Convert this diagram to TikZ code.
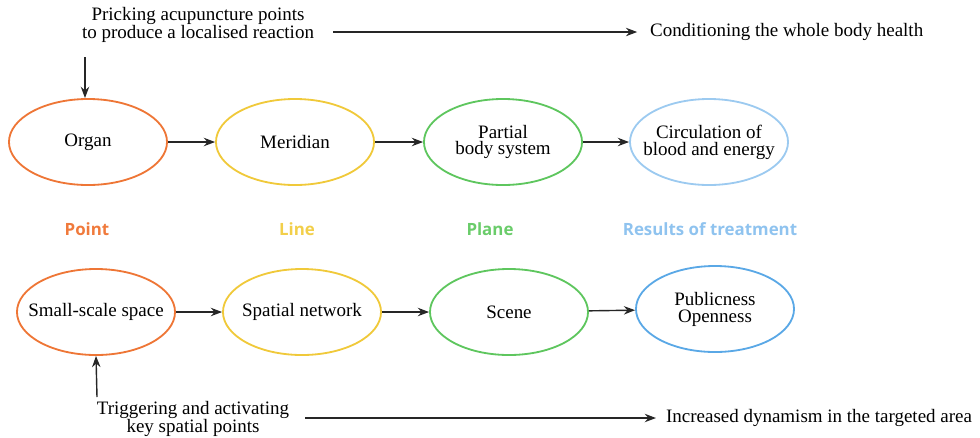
\documentclass[tikz,border=0pt]{standalone}
\usepackage{fontspec}
\setmainfont{Liberation Serif}
\newfontfamily\tagfont{Open Sans}
\usetikzlibrary{shapes.geometric,arrows.meta}
\definecolor{pointc}{HTML}{EE7636}
\definecolor{linec}{HTML}{F0C93A}
\definecolor{planec}{HTML}{5EC65E}
\definecolor{resultc}{HTML}{9CCAF0}
\definecolor{publicc}{HTML}{5AA8E6}
\definecolor{pointt}{HTML}{F07A3C}
\definecolor{linet}{HTML}{F2CF4A}
\definecolor{planet}{HTML}{6ACC6A}
\definecolor{resultt}{HTML}{8FC3EF}
\tikzset{
  stage/.style={ellipse,draw,line width=1.3pt,minimum width=3.95cm,minimum height=2.15cm,
    inner xsep=-0.6cm,inner ysep=0pt,align=center,font=\fontsize{13.5}{12}\selectfont},
  note/.style={align=center,inner sep=2pt,font=\fontsize{13.5}{12}\selectfont},
  tag/.style={font=\tagfont\bfseries\fontsize{12}{12}\selectfont},
  link/.style={-{Stealth[length=8pt,width=6pt]},line width=1pt,black!85}
}
\begin{document}
\begin{tikzpicture}[x=0.025cm,y=-0.025cm]
        \useasboundingbox (0,0) rectangle (980,437);
        % top row
        \node[note] (prick) at (198,25) {Pricking acupuncture points\\to produce a localised reaction};
        \node[note,anchor=west] (cond) at (647,32) {Conditioning the whole body health};
        \coordinate (pstart) at (333,32);
        \draw [link,shorten >=7pt] (pstart) -- (cond.west);
        \coordinate (ptop) at (85,57);
        \draw [link] (ptop) -- (ptop |- 0,98);
        \node[stage,draw=pointc] (organ) at (88,142) {Organ};
        \node[stage,draw=linec] (meridian) at (295,142) {Meridian};
        \node[stage,draw=planec] (partial) at (503,142) {Partial\\body system};
        \node[stage,draw=resultc] (circ) at (709,142) {Circulation of\\blood and energy};
        \draw [link] (organ) -- (meridian);
        \draw [link] (meridian) -- (partial);
        \draw [link] (partial) -- (circ);
        % level names
        \node[tag,text=pointt] (pointlab) at (87,229) {Point};
        \node[tag,text=linet] (linelab) at (297,229) {Line};
        \node[tag,text=planet] (planelab) at (490,229) {Plane};
        \node[tag,text=resultt] (resultlab) at (710,229) {Results of treatment};
        % bottom row
        \node[stage,draw=pointc] (small) at (96,312) {Small-scale space};
        \node[stage,draw=linec] (network) at (302,312) {Spatial network};
        \node[stage,draw=planec] (scene) at (509,312) {Scene};
        \node[stage,draw=publicc] (public) at (715,309) {Publicness\\Openness};
        \draw [link] (small) -- (network);
        \draw [link] (network) -- (scene);
        \draw [link] (scene) -- (public);
        \coordinate (pbot) at (97,397);
        \draw [link] (pbot) -- (small.south);
        \node[note] (trig) at (193,419) {Triggering and activating\\key spatial points};
        \node[note,anchor=west] (dyn) at (663,418) {Increased dynamism in the targeted area};
        \coordinate (tstart) at (305,418);
        \draw [link,shorten >=5pt] (tstart) -- (dyn.west);
    \end{tikzpicture}
\end{document}
